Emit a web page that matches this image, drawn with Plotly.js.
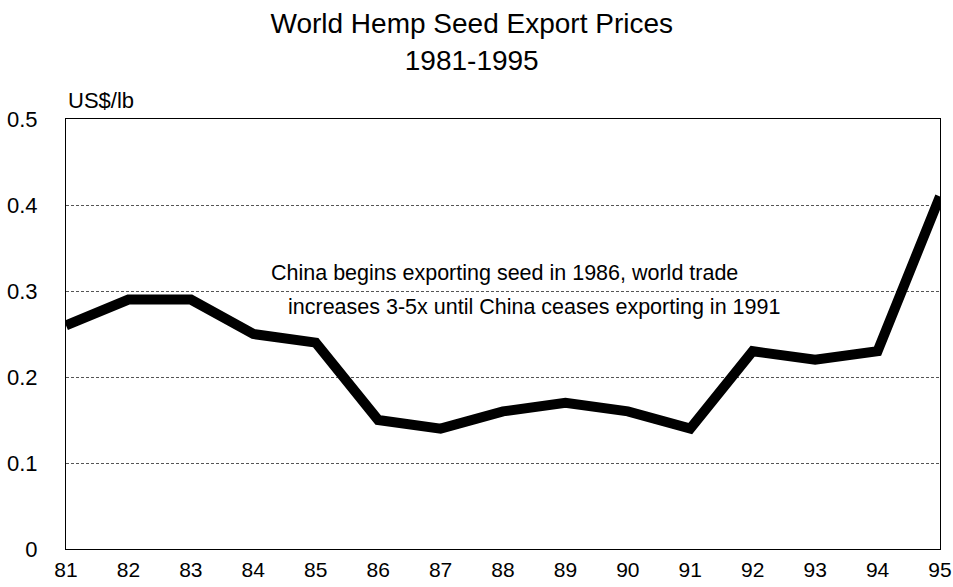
<!DOCTYPE html>
<html>
<head>
<meta charset="utf-8">
<script src="https://cdn.plot.ly/plotly-3.0.1.min.js"></script>
<style>html,body{margin:0;padding:0;background:#fff;}#chart{width:953px;height:587px;}</style>
</head>
<body>
<div id="chart"></div>
<script>
const years = [81, 82, 83, 84, 85, 86, 87, 88, 89, 90, 91, 92, 93, 94, 95];
const prices = [0.26, 0.29, 0.29, 0.25, 0.24, 0.15, 0.14, 0.16, 0.17, 0.16, 0.14, 0.23, 0.22, 0.23, 0.41];
const yTicks = [0, 0.1, 0.2, 0.3, 0.4, 0.5];
const yTickText = ['0', '0.1', '0.2', '0.3', '0.4', '0.5'];
const noteLine1 = 'China begins exporting seed in 1986, world trade';
const noteLine2 = 'increases 3-5x until China ceases exporting in 1991';

const font = 'Liberation Sans, Arial, sans-serif';

Plotly.newPlot('chart', [{
  x: years, y: prices, type: 'scatter', mode: 'lines',
  line: {color: '#000', width: 10, shape: 'linear'},
  hoverinfo: 'skip'
}], {
  width: 953, height: 587,
  margin: {l: 66, r: 13, t: 119, b: 38},
  paper_bgcolor: '#fff', plot_bgcolor: '#fff',
  showlegend: false,
  font: {family: font, size: 21, color: '#000'},
  title: {text: 'World Hemp Seed Export Prices<br>1981-1995', font: {family: font, size: 28, color: '#000'},
          xref: 'container', x: 0.495, xanchor: 'center', yref: 'container', y: 0.943, yanchor: 'middle'},
  xaxis: {range: [81, 95], tickvals: years, ticktext: years.map(String), showgrid: false,
          zeroline: false, showline: true, linecolor: '#000', linewidth: 1, mirror: true,
          ticks: '', ticklabelstandoff: 2, tickfont: {size: 21, family: font, color: '#000'}, fixedrange: true},
  yaxis: {range: [0, 0.5], tickvals: yTicks, ticktext: yTickText, showgrid: true,
          gridcolor: '#555', griddash: '3px,2px', gridwidth: 1,
          zeroline: false, showline: true, linecolor: '#000', linewidth: 1, mirror: true,
          ticks: '', ticklabelstandoff: 23, tickfont: {size: 22, family: font, color: '#000'}, fixedrange: true},
  annotations: [
    {text: 'US$/lb', xref: 'paper', yref: 'paper', x: 0, y: 1, xanchor: 'left', yanchor: 'bottom',
     yshift: 4, showarrow: false, font: {family: font, size: 22, color: '#000'}},
    {text: noteLine1, xref: 'x', yref: 'y', x: 84.25, y: 0.321, xanchor: 'left', yanchor: 'middle',
     showarrow: false, font: {family: font, size: 21.5, color: '#000'}},
    {text: noteLine2, xref: 'x', yref: 'y', x: 84.52, y: 0.281, xanchor: 'left', yanchor: 'middle',
     showarrow: false, font: {family: font, size: 21.5, color: '#000'}}
  ]
}, {displayModeBar: false, staticPlot: true});
</script>
</body>
</html>
